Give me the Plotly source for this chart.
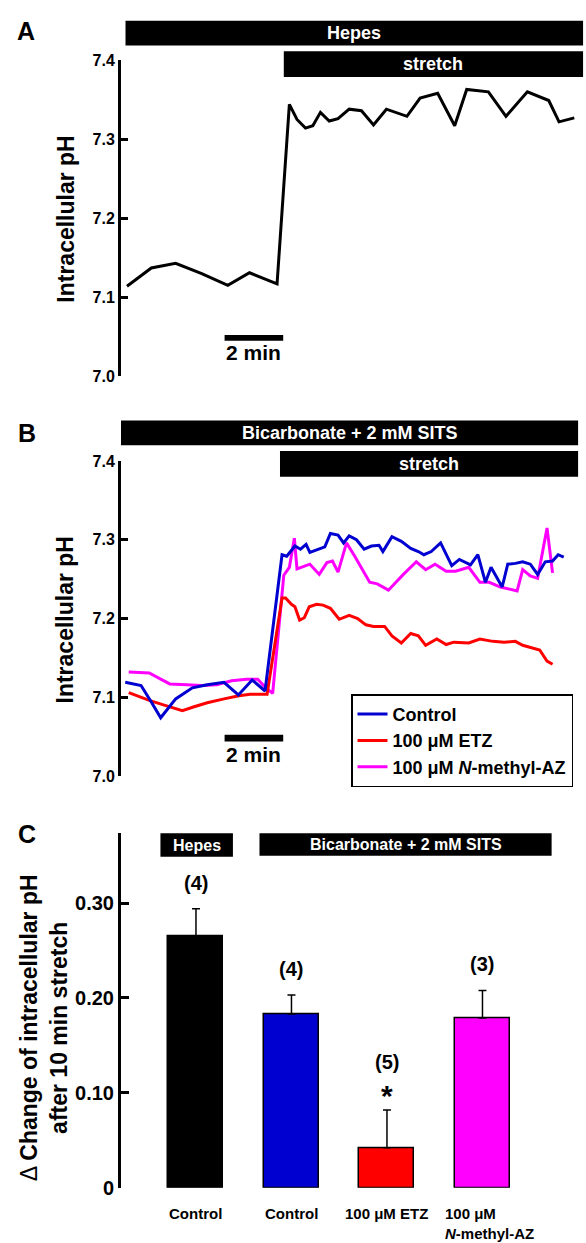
import plotly.graph_objects as go

W, H = 586, 1243
FONT = "Liberation Sans, Arial, Helvetica, sans-serif"

# ---------------- Panel A : Hepes ----------------
a_time = [0, 0.83, 1.66, 2.55, 3.44, 4.18, 5.12, 5.54, 5.80, 6.09, 6.34, 6.60, 6.90, 7.20,
          7.58, 8.00, 8.41, 8.85, 9.55, 10.0, 10.6, 11.18, 11.59, 12.33, 12.93, 13.66, 14.39,
          14.74, 15.26]
a_ph = [7.114, 7.137, 7.143, 7.130, 7.115, 7.131, 7.117, 7.344, 7.325, 7.314, 7.317, 7.334,
        7.323, 7.326, 7.338, 7.336, 7.318, 7.338, 7.329, 7.352, 7.358, 7.317, 7.363, 7.360,
        7.329, 7.360, 7.349, 7.322, 7.327]

# ---------------- Panel B : Bicarbonate + SITS ----------------
b_ctrl_time = [-0.06, 0.48, 0.83, 1.15, 1.66, 2.23, 2.74, 3.31, 3.80, 4.27, 4.71, 5.29, 5.45,
               5.73, 5.92, 6.11, 6.24, 6.50, 6.75, 6.94, 7.20, 7.39, 7.58, 7.83, 8.09, 8.34,
               8.60, 8.73, 9.04, 9.36, 9.68, 9.94, 10.13, 10.38, 10.70, 11.08, 11.34, 11.72,
               11.97, 12.23, 12.42, 12.80, 12.99, 13.25, 13.50, 13.76, 14.01, 14.27, 14.52,
               14.71, 14.90]
b_ctrl_ph = [7.119, 7.115, 7.094, 7.074, 7.098, 7.112, 7.116, 7.119, 7.103, 7.122, 7.108,
             7.281, 7.279, 7.292, 7.288, 7.294, 7.284, 7.288, 7.291, 7.308, 7.306, 7.296,
             7.305, 7.300, 7.288, 7.292, 7.293, 7.285, 7.304, 7.298, 7.289, 7.285, 7.281,
             7.285, 7.296, 7.267, 7.275, 7.268, 7.281, 7.246, 7.265, 7.240, 7.269, 7.270,
             7.272, 7.269, 7.256, 7.272, 7.273, 7.281, 7.278]

b_etz_time = [0.06, 0.76, 1.27, 1.89, 2.29, 2.74, 3.31, 3.82, 4.20, 4.78, 5.29, 5.41, 5.61,
              5.73, 5.89, 6.05, 6.22, 6.47, 6.69, 6.94, 7.24, 7.58, 7.87, 8.15, 8.41, 8.79,
              9.04, 9.36, 9.68, 9.94, 10.19, 10.57, 10.89, 11.15, 11.66, 12.04, 12.48, 12.87,
              13.25, 13.50, 14.08, 14.33, 14.52]
b_etz_ph = [7.106, 7.096, 7.090, 7.083, 7.088, 7.093, 7.098, 7.102, 7.104, 7.104, 7.226,
            7.226, 7.218, 7.215, 7.198, 7.201, 7.215, 7.218, 7.217, 7.213, 7.199, 7.204,
            7.200, 7.192, 7.190, 7.190, 7.178, 7.169, 7.181, 7.178, 7.166, 7.174, 7.167,
            7.170, 7.169, 7.174, 7.171, 7.170, 7.171, 7.166, 7.160, 7.146, 7.142]

b_naz_time = [0.06, 0.76, 1.15, 1.46, 2.04, 2.55, 3.06, 3.57, 4.08, 4.46, 4.71, 4.97, 5.35,
              5.54, 5.71, 5.80, 6.24, 6.56, 6.82, 7.01, 7.20, 7.49, 7.77, 8.28, 8.54, 8.92,
              9.43, 9.87, 10.19, 10.51, 10.89, 11.21, 11.66, 12.04, 12.36, 12.74, 13.31,
              13.50, 13.76, 14.01, 14.33, 14.52]
b_naz_ph = [7.132, 7.131, 7.123, 7.117, 7.116, 7.115, 7.116, 7.121, 7.123, 7.123, 7.113,
            7.105, 7.255, 7.265, 7.302, 7.263, 7.269, 7.256, 7.271, 7.273, 7.259, 7.296,
            7.279, 7.246, 7.244, 7.236, 7.256, 7.272, 7.262, 7.269, 7.260, 7.260, 7.265,
            7.246, 7.246, 7.240, 7.235, 7.262, 7.254, 7.251, 7.315, 7.258]

b_names = ["Control", "100 \u03bcM ETZ", "100 \u03bcM <i>N</i>-methyl-AZ"]
b_colors = ["#0000d0", "#ff0000", "#ff00ff"]

# ---------------- Panel C : summary ----------------
c_ids = ["hepes_ctrl", "sits_ctrl", "sits_etz", "sits_naz"]
c_labels = ["Control", "Control", "100 \u03bcM ETZ", "100 \u03bcM<br><i>N</i>-methyl-AZ"]
c_mean = [0.265, 0.183, 0.042, 0.179]
c_sem = [0.029, 0.020, 0.040, 0.029]
c_n = ["(4)", "(4)", "(5)", "(3)"]
c_colors = ["#000000", "#0000d0", "#ff0000", "#ff00ff"]

stretch_on = 5.35      # min, stretch onset (panel A)
stretch_on_b = 5.22    # min, stretch onset (panel B)
scale_end = 5.33       # end of the 2-min scale bar
scale_len = 2.0


def py(p):
    return 1 - p / H


def px(p):
    return p / W


fig = go.Figure()

fig.add_trace(go.Scatter(x=a_time, y=a_ph, mode="lines", line=dict(color="black", width=3),
                         showlegend=False, xaxis="x", yaxis="y"))

b_series = [(b_ctrl_time, b_ctrl_ph), (b_etz_time, b_etz_ph), (b_naz_time, b_naz_ph)]
# drawn magenta, red, then blue on top; legend listed Control, ETZ, N-methyl-AZ
for i in [2, 1, 0]:
    t, v = b_series[i]
    fig.add_trace(go.Scatter(x=t, y=v, mode="lines", name=b_names[i],
                             line=dict(color=b_colors[i], width=3),
                             xaxis="x2", yaxis="y2", legendrank=i + 1))

fig.add_trace(go.Bar(x=c_ids, y=c_mean, marker=dict(color=c_colors, line=dict(color="black", width=1.5)),
                     width=0.576, showlegend=False, xaxis="x3", yaxis="y3",
                     error_y=dict(type="data", array=c_sem, arrayminus=[0] * 4, symmetric=False,
                                  color="black", thickness=1.5, width=4)))

tick_font = dict(family=FONT, size=16, color="black", weight="bold")
yax_common = dict(showline=True, linewidth=3, linecolor="black", ticks="inside", ticklen=7,
                  tickwidth=3, tickcolor="black", showgrid=False, zeroline=False,
                  tickfont=tick_font)

x_range_ab = [-0.204, 15.66]
fig.update_layout(
    width=W, height=H, margin=dict(l=0, r=0, t=0, b=0), autosize=False,
    paper_bgcolor="white", plot_bgcolor="white",
    font=dict(family=FONT, color="black"),
    xaxis=dict(domain=[px(121), 1], range=x_range_ab, visible=False, anchor="y"),
    yaxis=dict(domain=[py(374), py(53)], range=[7.0, 7.4], anchor="x",
               tickvals=[7.0, 7.1, 7.2, 7.3, 7.4], ticktext=["7.0", "7.1", "7.2", "7.3", "7.4"],
               **yax_common),
    xaxis2=dict(domain=[px(121), 1], range=x_range_ab, visible=False, anchor="y2"),
    yaxis2=dict(domain=[py(780), py(460)], range=[7.0, 7.4], anchor="x2",
                tickvals=[7.0, 7.1, 7.2, 7.3, 7.4], ticktext=["7.0", "7.1", "7.2", "7.3", "7.4"],
                **yax_common),
    xaxis3=dict(domain=[px(121), 1], range=[-0.785, 4.084], visible=False, anchor="y3",
                type="category"),
    yaxis3=dict(domain=[py(1198), py(838)], range=[0, 0.3737], anchor="x3",
                tickvals=[0, 0.1, 0.2, 0.3], ticktext=["0", "0.10", "0.20", "0.30"],
                **{**yax_common, "ticklen": 8,
                   "tickfont": dict(family=FONT, size=20, color="black", weight="bold")}),
    legend=dict(x=px(351), y=py(697), xanchor="left", yanchor="top",
                bordercolor="black", borderwidth=1.5, bgcolor="white",
                font=dict(family=FONT, size=18, color="black", weight="bold"),
                tracegroupgap=0, itemwidth=30),
    bargap=0,
)

shapes = []
ann = []


def black_bar(xref, x0, x1, y0p, y1p, text, size):
    shapes.append(dict(type="rect", xref=xref, yref="paper", x0=x0, x1=x1,
                       y0=py(y1p), y1=py(y0p), fillcolor="black", line=dict(width=0)))
    ann.append(dict(xref=xref, yref="paper", x=(x0 + x1) / 2, y=py((y0p + y1p) / 2),
                    text=f"<b>{text}</b>", showarrow=False, xanchor="center", yanchor="middle",
                    font=dict(family=FONT, size=size, color="white")))


# Panel A bars
black_bar("x", -0.05, 15.56, 13, 38, "Hepes", 18)
black_bar("x", stretch_on, 15.56, 44, 70, "stretch", 18)
# Panel B bars
black_bar("x2", -0.204, 15.39, 419, 444, "Bicarbonate + 2 mM SITS", 18)
black_bar("x2", stretch_on_b, 15.39, 450, 476, "stretch", 18)
# Panel C bars
black_bar("x3", -0.372, 0.387, 838, 862, "Hepes", 16)
black_bar("x3", 0.665, 3.724, 838, 861, "Bicarbonate + 2 mM SITS", 16)

# scale bars
for xr, y0p, y1p, ty in [("x", 332, 338, 350), ("x2", 738, 745, 758)]:
    shapes.append(dict(type="rect", xref=xr, yref="paper", x0=scale_end - scale_len, x1=scale_end,
                       y0=py(y1p), y1=py(y0p), fillcolor="black", line=dict(width=0)))
    ann.append(dict(xref=xr, yref="paper", x=scale_end - scale_len / 2, y=py(ty),
                    text="<b>2 min</b>", showarrow=False, xanchor="center", yanchor="middle",
                    font=dict(family=FONT, size=21, color="black")))

# panel letters
for letter, cx, cy in [("A", 26, 23), ("B", 27, 432), ("C", 27, 839)]:
    ann.append(dict(xref="paper", yref="paper", x=px(cx), y=py(cy), text=f"<b>{letter}</b>",
                    showarrow=False, xanchor="center", yanchor="middle",
                    font=dict(family=FONT, size=25, color="black")))

# y titles
for cx, cy in [(66, 215), (65, 622)]:
    ann.append(dict(xref="paper", yref="paper", x=px(cx), y=py(cy), text="<b>Intracellular pH</b>",
                    showarrow=False, textangle=-90, xanchor="center", yanchor="middle",
                    font=dict(family=FONT, size=23, color="black")))
ann.append(dict(xref="paper", yref="paper", x=px(44), y=py(1036),
                text="\u0394 <b>Change of intracellular pH</b><br><b>after 10 min stretch</b>",
                showarrow=False, textangle=-90, xanchor="center", yanchor="middle",
                font=dict(family=FONT, size=23, color="black")))

# n labels and significance
n_shift = [26, 26, 48, 26]
for cid, m, s, n, sh in zip(c_ids, c_mean, c_sem, c_n, n_shift):
    ann.append(dict(xref="x3", yref="y3", x=cid, y=m + s, yshift=sh, text=f"<b>{n}</b>",
                    showarrow=False, xanchor="center", yanchor="middle",
                    font=dict(family=FONT, size=20, color="black")))
ann.append(dict(xref="x3", yref="y3", x=c_ids[2], y=c_mean[2] + c_sem[2], yshift=14,
                text="<b>*</b>", showarrow=False, xanchor="center", yanchor="middle",
                font=dict(family=FONT, size=30, color="black")))

# category labels
for i, (cid, lab) in enumerate(zip(c_ids, c_labels)):
    ann.append(dict(xref="x3", yref="y3", x=cid, y=0, yshift=-15, text=f"<b>{lab}</b>",
                    showarrow=False, xanchor="center", yanchor="top", align="left",
                    xshift=7 if i == 3 else 0,
                    font=dict(family=FONT, size=15, color="black")))

fig.update_layout(shapes=shapes, annotations=ann)
fig.write_html("out.html", config={"displayModeBar": False},
               post_script="document.body.style.margin='0';")
